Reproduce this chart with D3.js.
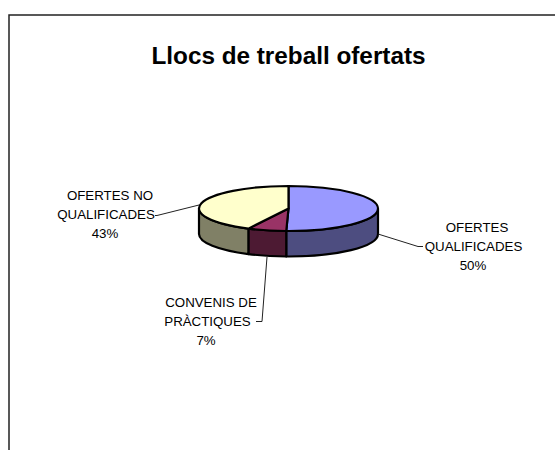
<!DOCTYPE html>
<html><head><meta charset="utf-8">
<script src="https://cdn.jsdelivr.net/npm/d3@7"></script>
<style>html,body{margin:0;padding:0;background:#fff}svg{display:block}</style>
</head><body><svg id="c" width="555" height="450"></svg>
<script>
const title = "Llocs de treball ofertats";
const categories = ["OFERTES QUALIFICADES", "CONVENIS DE PRÀCTIQUES", "OFERTES NO QUALIFICADES"];
const values = [50.4, 7.0, 42.6];
const labelLines = [["OFERTES", "QUALIFICADES", "50%"], ["CONVENIS DE", "PRÀCTIQUES", "7%"], ["OFERTES NO", "QUALIFICADES", "43%"]];
const topColors = ["#9999FF", "#993366", "#FFFFCC"];
const sideColors = ["#4D4D80", "#4D1A33", "#808066"];

const svg = d3.select("#c");
const cx = 288.5, cy = 208.5, rx = 89.5, ry = 22.5, depth = 25.5;
const font = "Liberation Sans, Arial, sans-serif";

svg.append("path").attr("d", "M9,450V15H555").attr("fill", "none").attr("stroke", "#222").attr("stroke-width", 1.5);

svg.append("text").attr("x", 288.5).attr("y", 64).attr("text-anchor", "middle")
  .attr("font-family", font).attr("font-weight", "bold").attr("font-size", 24.3).attr("fill", "#000").text(title);

const arcs = d3.pie().sort(null)(values);
const px = a => cx + rx * Math.sin(a);
const py = (a, dy = 0) => cy - ry * Math.cos(a) + dy;

const strokeW = 2.2;
const pieG = svg.append("g");

arcs.forEach((d, i) => {
  const a0 = Math.max(d.startAngle, Math.PI / 2), a1 = Math.min(d.endAngle, 3 * Math.PI / 2);
  if (a1 <= a0) return;
  let path = `M${px(a0)},${py(a0)}L${px(a0)},${py(a0, depth)}`;
  path += `A${rx},${ry} 0 0 1 ${px(a1)},${py(a1, depth)}L${px(a1)},${py(a1)}`;
  path += `A${rx},${ry} 0 0 0 ${px(a0)},${py(a0)}Z`;
  pieG.append("path").attr("d", path).attr("fill", sideColors[i])
    .attr("stroke", "#000").attr("stroke-width", strokeW).attr("stroke-linejoin", "round");
});

const arc = d3.arc().innerRadius(0).outerRadius(rx);
const topG = pieG.append("g").attr("transform", `translate(${cx},${cy}) scale(1,${ry / rx})`);
topG.selectAll("path").data(arcs).join("path")
  .attr("d", arc).attr("fill", (d, i) => topColors[i])
  .attr("stroke", "#000").attr("stroke-width", strokeW)
  .attr("stroke-linejoin", "round").attr("vector-effect", "non-scaling-stroke");

const leaderPts = [
  [[378, 234], [418, 246.5], [423, 246.5]],
  [[267, 257], [262, 321.5], [256, 321.5]],
  [[199, 205], [157, 215.5], [155, 215.5]]
];
const line = d3.line();
leaderPts.forEach(pts => {
  svg.append("path").attr("d", line(pts)).attr("fill", "none").attr("stroke", "#222").attr("stroke-width", 1);
});

const labelX = [[477, 473.5, 473], [211, 207.5, 206], [110, 106, 105]];
const labelY = [232, 307, 200];
labelLines.forEach((lines, i) => {
  const t = svg.append("text").attr("font-family", font).attr("font-size", 13.3).attr("fill", "#000").attr("text-anchor", "middle");
  lines.forEach((s, j) => t.append("tspan").attr("x", labelX[i][j]).attr("y", labelY[i] + j * 18.75).text(s));
});
</script></body></html>
